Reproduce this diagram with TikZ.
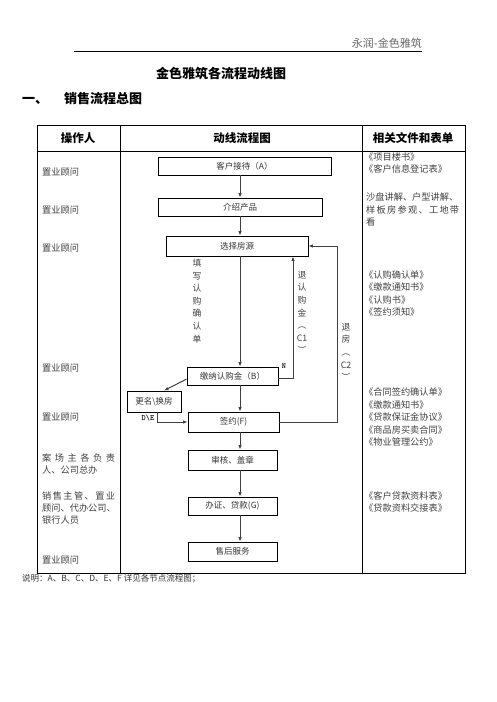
\documentclass[tikz,border=0pt]{standalone}
\usepackage{fontspec}
\setmainfont{Noto Sans CJK SC}
\usetikzlibrary{arrows.meta,positioning,calc}
\tikzset{flow/.style={draw,line width=0.8pt,rectangle,inner sep=0pt,
font=\fontsize{8.5}{10}\selectfont,text=black!80},
arr/.style={draw=black!75,line width=1pt,-{Latex[length=4.5pt,width=3.5pt]}},
who/.style={anchor=west,inner sep=0pt,font=\fontsize{9.2}{11}\selectfont,text=black!75},
doc/.style={anchor=west,inner sep=0pt,font=\fontsize{9.2}{11}\selectfont,text=black!75},
head/.style={inner sep=0pt,font=\fontsize{11.5}{13}\bfseries\selectfont},
vtxt/.style={align=center,inner sep=0pt,font=\fontsize{8.8}{12.6}\selectfont,text=black!75},
tag/.style={inner sep=0pt,font=\fontsize{8}{9}\bfseries\ttfamily\selectfont}}

\begin{document}
\begin{tikzpicture}[x=1pt,y=-1pt]
		\useasboundingbox (0,0) rectangle (496,702);
		% page header and titles
		\node[anchor=east,inner sep=0pt,text=black!60,font=\fontsize{11}{12}\selectfont] (brand) at (422,43) {永润-金色雅筑};
		\draw[line width=0.8pt] (74,51) -- (422,51);
		\node[head,font=\fontsize{13}{14}\bfseries\selectfont] (title) at (221,73) {金色雅筑各流程动线图};
		\node[head,anchor=west,font=\fontsize{13}{14}\bfseries\selectfont] (sec) at (22,99) {一、\hspace{16pt}销售流程总图};
		% table
		\draw[line width=1pt] (37,125) rectangle (465,573);
		\draw[line width=0.9pt] (37,151.5) -- (465,151.5);
		\draw[line width=0.9pt] (120.5,125) -- (120.5,573);
		\draw[line width=0.9pt] (362.5,125) -- (362.5,573);
		\node[head] (h1) at (78,138) {操作人};
		\node[head] (h2) at (242,138) {动线流程图};
		\node[head] (h3) at (413,138) {相关文件和表单};
		% flow boxes
		\node[flow,minimum width=173pt,minimum height=18pt] (recv) at (244.5,166) {客户接待（A）};
		\node[flow,minimum width=164pt,minimum height=18pt] (intro) at (240,207) {介绍产品};
		\node[flow,minimum width=142pt,minimum height=20pt] (choose) at (237,246) {选择房源};
		\node[flow,minimum width=91pt,minimum height=18pt] (pay) at (232.5,376) {缴纳认购金（B）};
		\node[flow,minimum width=54pt,minimum height=21pt] (rename) at (154,401.5) {更名\textbackslash 换房};
		\node[flow,minimum width=91pt,minimum height=20pt] (sign) at (233.5,422) {签约(F)};
		\node[flow,minimum width=89pt,minimum height=20pt] (audit) at (232.5,460) {审核、盖章};
		\node[flow,minimum width=89pt,minimum height=18pt] (loan) at (232.5,506) {办证、贷款(G)};
		\node[flow,minimum width=89pt,minimum height=19pt] (after) at (232.5,551.5) {售后服务};
		\coordinate (spine) at (240,0);
		\coordinate (c1) at (293,0);
		\coordinate (c2) at (337,0);
		% connectors
		\draw[arr] (recv.south -| spine) -- (intro.north -| spine);
		\draw[arr] (intro.south -| spine) -- (choose.north -| spine);
		\draw[arr] (choose.south -| spine) -- (pay.north -| spine);
		\draw[arr] (pay.south -| spine) -- (sign.north -| spine);
		\draw[arr] (sign.south -| spine) -- (audit.north -| spine);
		\draw[arr] (audit.south -| spine) -- (loan.north -| spine);
		\draw[arr] (loan.south -| spine) -- (after.north -| spine);
		\draw[arr] ([yshift=-2pt]pay.east) -| (c1 |- choose.south);
		\draw[arr] (sign.east) -| (c2 |- choose.east) -- (choose.east);
		\draw[arr] ([yshift=-3pt]pay.west) -- ([xshift=10pt]rename.north);
		\draw[arr] ([xshift=3pt]rename.south) |- (sign.west);
		\node[tag] (nlab) at (284,366) {N};
		\node[tag] (delab) at (148,418) {D\textbackslash E};
		% vertical labels
		\node[vtxt] (fill) at (197,301) {填\\写\\认\\购\\确\\认\\单};
		\node[vtxt] (back1) at (302,312.5) {退\\认\\购\\金\\︵\\C1\\︶};
		\node[vtxt] (back2) at (346,352) {退\\房\\︵\\C2\\︶};
		% operators
		\foreach \y [count=\i] in {172,210,248,368,417,560}
			\node[who] (op\i) at (42,\y) {置业顾问};
		\node[who] (boss1) at (42,458) {\makebox[73pt][s]{案\hfil 场\hfil 主\hfil 各\hfil 负\hfil 责}};
		\node[who] (boss2) at (42,470.5) {人、公司总办};
		\node[who] (bank1) at (42,496) {\makebox[73pt][s]{销\hfil 售\hfil 主\hfil 管\hfil 、\hfil 置\hfil 业}};
		\node[who] (bank2) at (42,508) {顾问、代办公司、};
		\node[who] (bank3) at (42,520) {银行人员};
		% documents
		\foreach \d [count=\i from 0] in {《项目楼书》,《客户信息登记表》}
			\node[doc] (da\i) at (364,{157+12.4*\i}) {\d};
		\node[doc] (db0) at (366,197) {沙盘讲解、户型讲解、};
		\node[doc] (db1) at (366,209.5) {\makebox[93pt][s]{样\hfil 板\hfil 房\hfil 参\hfil 观\hfil 、\hfil 工\hfil 地\hfil 带}};
		\node[doc] (db2) at (366,222) {看};
		\foreach \d [count=\i from 0] in {《认购确认单》,《缴款通知书》,《认购书》,《签约须知》}
			\node[doc] (dc\i) at (364,{275+12.4*\i}) {\d};
		\foreach \d [count=\i from 0] in {《合同签约确认单》,《缴款通知书》,《贷款保证金协议》,《商品房买卖合同》,《物业管理公约》}
			\node[doc] (dd\i) at (364,{392+12.6*\i}) {\d};
		\foreach \d [count=\i from 0] in {《客户贷款资料表》,《贷款资料交接表》}
			\node[doc] (de\i) at (364,{496+12.4*\i}) {\d};
		% note
		\node[anchor=west,inner sep=0pt,text=black!80,font=\fontsize{8.5}{10}\selectfont] (note) at (22,579) {说明：A、B、C、D、E、F 详见各节点流程图；};
	\end{tikzpicture}
\end{document}
